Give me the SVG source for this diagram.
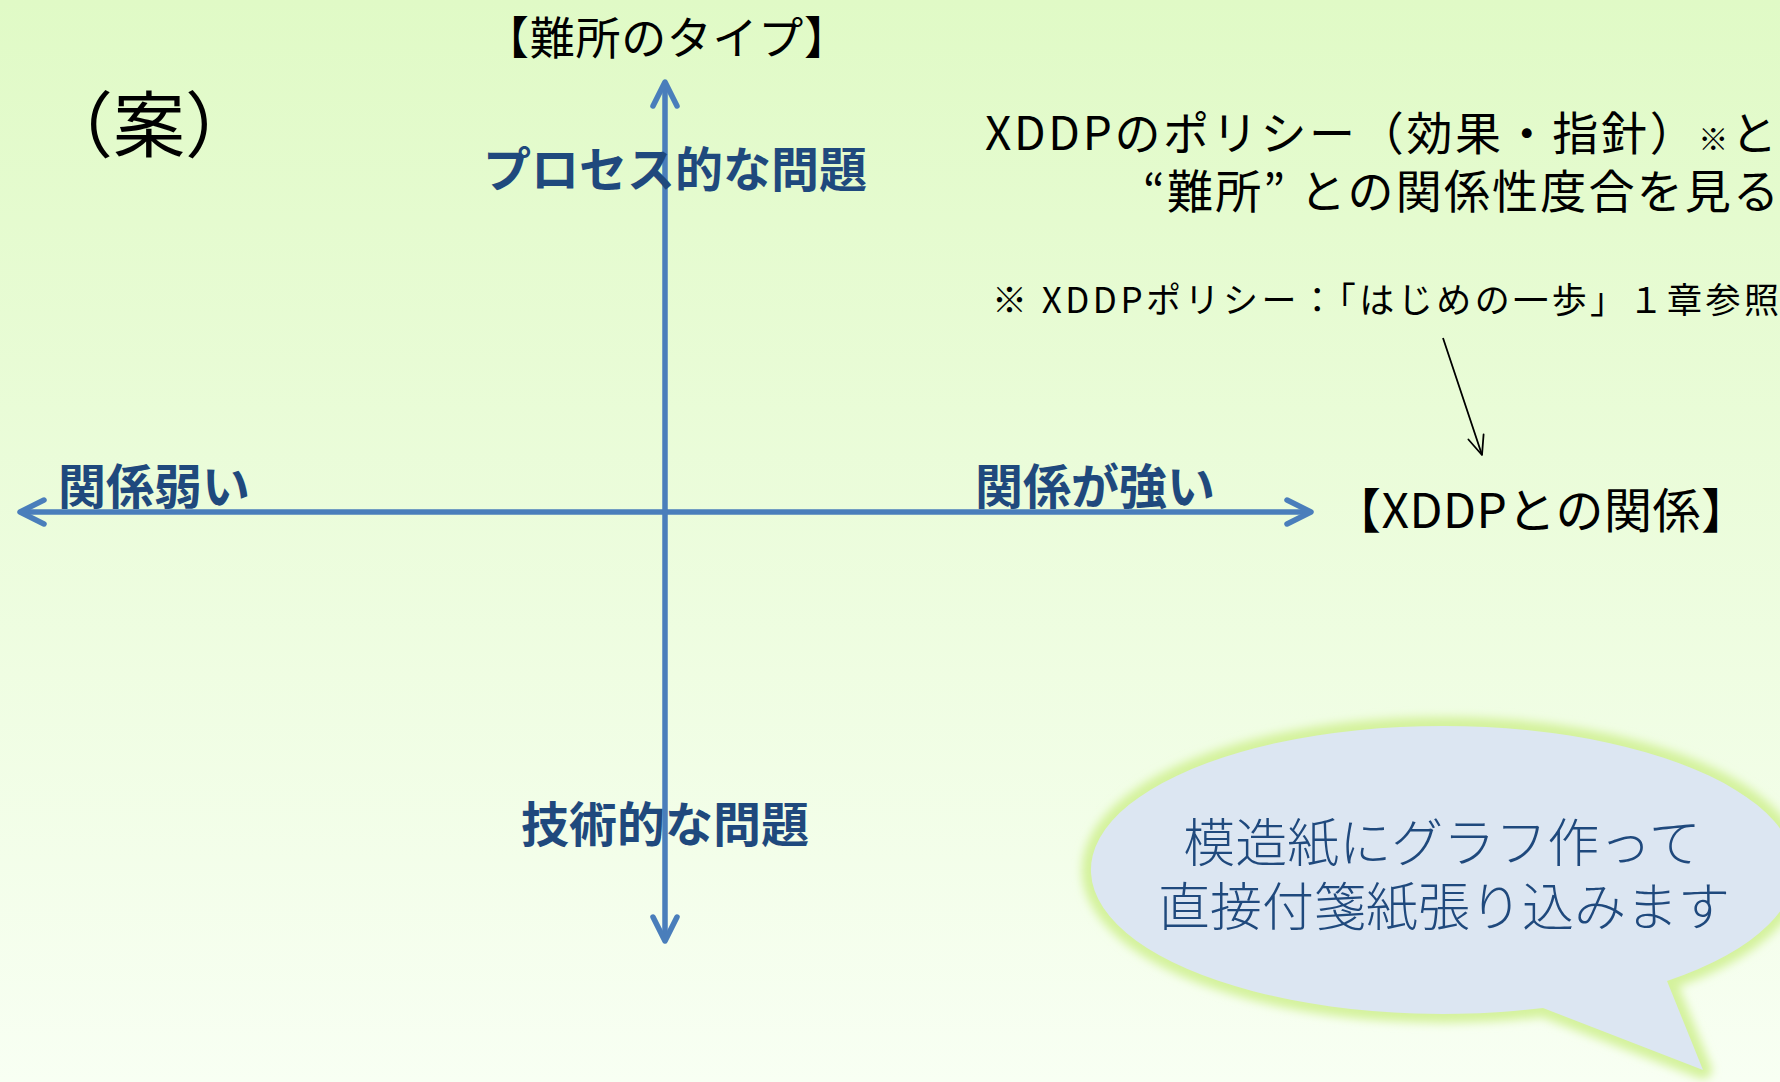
<svg xmlns="http://www.w3.org/2000/svg" width="1780" height="1082" viewBox="0 0 1780 1082">
  <defs>
    <linearGradient id="bg" x1="0" y1="0" x2="0" y2="1">
      <stop offset="0" stop-color="#e0fac6"/>
      <stop offset="1" stop-color="#f8fff3"/>
    </linearGradient>
    <filter id="glow" x="-10%" y="-20%" width="120%" height="140%">
      <feGaussianBlur stdDeviation="5"/>
    </filter>
    <marker id="chev" markerUnits="userSpaceOnUse" markerWidth="40" markerHeight="40" viewBox="-30 -20 40 40" refX="0" refY="0" orient="auto-start-reverse">
      <path d="M-24,-12 L0,0 L-24,12" fill="none" stroke="#4a7ebb" stroke-width="5.5" stroke-linecap="round" stroke-linejoin="round"/>
    </marker>
    <marker id="thin" markerUnits="userSpaceOnUse" markerWidth="30" markerHeight="30" viewBox="-25 -15 30 30" refX="0" refY="0" orient="auto">
      <path d="M-19,-8 L0,0 L-19,8" fill="none" stroke="#000" stroke-width="1.8" stroke-linecap="round" stroke-linejoin="round"/>
    </marker>
    <style>
      text { font-family: "Noto Sans CJK JP", "Noto Sans", sans-serif; }
      .blk { fill: #000; font-weight: 400; }
      .lbl { fill: #1f497d; font-weight: 700; font-size: 48px; }
      .bub { fill: #1f497d; font-weight: 300; font-size: 52px; text-anchor: middle; }
      .axis { stroke: #4a7ebb; stroke-width: 5.5; fill: none; }
    </style>
  </defs>

  <rect id="background" x="0" y="0" width="1780" height="1082" fill="url(#bg)"/>

  <g id="connectors">
    <line class="axis" x1="20" y1="512" x2="1311" y2="512" marker-start="url(#chev)" marker-end="url(#chev)"/>
    <line class="axis" x1="665" y1="82" x2="665" y2="941" marker-start="url(#chev)" marker-end="url(#chev)"/>
    <line x1="1443" y1="338" x2="1482" y2="455" stroke="#000" stroke-width="1.8" marker-end="url(#thin)"/>
  </g>

  <g id="title">
    <text class="blk" x="41" y="151" font-size="72">（案）</text>
  </g>

  <g id="axis-title-vertical">
    <text class="blk" x="484" y="55" font-size="45" textLength="365" lengthAdjust="spacing">【難所のタイプ】</text>
  </g>

  <g id="axis-title-horizontal">
    <text class="blk" x="1333" y="528" font-size="48" textLength="416" lengthAdjust="spacing">【XDDPとの関係】</text>
  </g>

  <g id="label-top">
    <text class="lbl" x="483" y="187">プロセス的な問題</text>
  </g>
  <g id="label-bottom">
    <text class="lbl" x="521" y="842">技術的な問題</text>
  </g>
  <g id="label-left">
    <text class="lbl" x="58" y="504">関係弱い</text>
  </g>
  <g id="label-right">
    <text class="lbl" x="975" y="504">関係が強い</text>
  </g>

  <g id="policy-note">
    <text class="blk" x="985" y="150" font-size="46" textLength="792" lengthAdjust="spacing">XDDPのポリシー（効果・指針）<tspan font-size="30">※</tspan>と</text>
    <text class="blk" x="1143" y="208" font-size="46" textLength="636" lengthAdjust="spacing">“難所” との関係性度合を見る</text>
    <text class="blk" x="992" y="313" font-size="35" textLength="787" lengthAdjust="spacing">※ XDDPポリシー：「はじめの一歩」１章参照</text>
  </g>

  <g id="speech-bubble">
    <path d="M1543,1008 A352,144 0 1 1 1667,981 L1703,1070 Z" fill="none" stroke="#d4f29c" stroke-width="18" stroke-linejoin="round" filter="url(#glow)"/>
    <path d="M1543,1008 A352,144 0 1 1 1667,981 L1703,1070 Z" fill="#dce6f2"/>
    <text class="bub" x="1442" y="862">模造紙にグラフ作って</text>
    <text class="bub" x="1444" y="926">直接付箋紙張り込みます</text>
  </g>
</svg>
